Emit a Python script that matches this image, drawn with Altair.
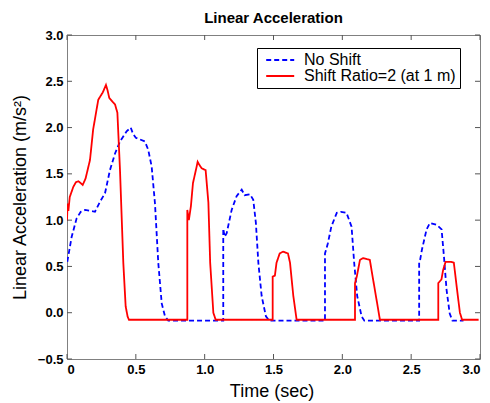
import altair as alt
import pandas as pd

series_names = ["No Shift", "Shift Ratio=2 (at 1 m)"]

blue_t = [0.002, 0.034, 0.070, 0.100, 0.131, 0.170, 0.203, 0.240, 0.276, 0.312,
          0.349, 0.385, 0.433, 0.463, 0.480, 0.500, 0.566, 0.590, 0.615, 0.639,
          0.663, 0.688, 0.712, 0.736, 1.135, 1.135, 1.145, 1.160, 1.196, 1.232,
          1.269, 1.290, 1.329, 1.353, 1.372, 1.390, 1.414, 1.445, 1.470, 1.874,
          1.874, 1.882, 1.895, 1.920, 1.960, 1.990, 2.030, 2.067, 2.086, 2.108,
          2.140, 2.160, 2.558, 2.558, 2.565, 2.578, 2.612, 2.636, 2.685, 2.721,
          2.738, 2.757, 2.780, 2.800, 2.880]
blue_v = [0.55, 0.82, 1.02, 1.09, 1.11, 1.10, 1.09, 1.20, 1.29, 1.54,
          1.72, 1.85, 1.96, 2.00, 1.93, 1.89, 1.85, 1.76, 1.58, 1.18,
          0.54, 0.10, -0.04, -0.086, -0.086, 0.91, 0.82, 0.86, 1.11, 1.26,
          1.33, 1.27, 1.28, 1.22, 0.97, 0.54, 0.18, -0.04, -0.086, -0.086,
          0.64, 0.68, 0.75, 0.93, 1.08, 1.09, 1.08, 0.93, 0.54, 0.18,
          -0.04, -0.086, -0.086, 0.54, 0.57, 0.68, 0.90, 0.97, 0.95, 0.90,
          0.61, 0.25, -0.01, -0.086, -0.086]

red_t = [0.000, 0.004, 0.010, 0.020, 0.046, 0.065, 0.082, 0.100, 0.114, 0.135,
         0.167, 0.190, 0.227, 0.260, 0.283, 0.295, 0.307, 0.330, 0.349, 0.366,
         0.385, 0.409, 0.426, 0.440, 0.450, 0.874, 0.874, 0.885, 0.900, 0.915,
         0.942, 0.949, 0.960, 0.978, 1.007, 1.027, 1.040, 1.063, 1.080, 1.494,
         1.494, 1.510, 1.522, 1.545, 1.570, 1.605, 1.620, 1.644, 1.668, 2.092,
         2.092, 2.105, 2.128, 2.150, 2.200, 2.212, 2.244, 2.273, 2.697, 2.697,
         2.720, 2.732, 2.750, 2.790, 2.810, 2.830, 2.854, 2.870, 2.990]
red_v = [0.99, 1.18, 1.10, 1.25, 1.36, 1.41, 1.42, 1.40, 1.38, 1.45,
         1.65, 1.98, 2.30, 2.38, 2.46, 2.40, 2.32, 2.28, 2.25, 2.16,
         1.54, 0.54, 0.07, -0.04, -0.076, -0.076, 1.11, 1.00, 1.15, 1.40,
         1.58, 1.63, 1.60, 1.56, 1.54, 1.19, 0.54, 0.00, -0.076, -0.076,
         0.39, 0.40, 0.54, 0.64, 0.66, 0.64, 0.54, 0.18, -0.076, -0.076,
         0.32, 0.39, 0.57, 0.59, 0.57, 0.46, 0.18, -0.076, -0.076, 0.32,
         0.36, 0.46, 0.55, 0.55, 0.54, 0.29, 0.00, -0.076, -0.076]

x_ticks = [0, 0.5, 1.0, 1.5, 2.0, 2.5, 3.0]
y_ticks = [-0.5, 0.0, 0.5, 1.0, 1.5, 2.0, 2.5, 3.0]

rows = []
for i, (t, v) in enumerate(zip(blue_t, blue_v)):
    rows.append({"t": t, "v": v, "series": series_names[0], "i": i})
for i, (t, v) in enumerate(zip(red_t, red_v)):
    rows.append({"t": t, "v": v, "series": series_names[1], "i": i})
df = pd.DataFrame(rows)

W, H = 413, 324
FONT = "Liberation Sans"
TICK = 5
TICK_COLOR = "#555555"

x_scale = alt.Scale(domain=[0, 3], nice=False, zero=False)
y_scale = alt.Scale(domain=[-0.5, 3], nice=False, zero=False)

x_axis = alt.Axis(
    values=x_ticks, title="Time (sec)",
    labelExpr="datum.value == 0 ? '0' : format(datum.value, '.1f')",
    titleX=204.5, titleY=37, titleAlign="center", titleBaseline="alphabetic")
y_axis = alt.Axis(
    values=y_ticks, format=".1f", title="Linear Acceleration (m/s²)",
    titleAngle=270, titleX=-42, titleY=162, titleAlign="center",
    titleBaseline="alphabetic")

legend = alt.Legend(
    title=None, orient="none", legendX=190, legendY=13,
    strokeColor="black", fillColor="white", padding=4,
    symbolType="M-0.4,0H3.6", symbolSize=196, symbolStrokeWidth=1.8,
    labelFont=FONT, labelFontSize=16, labelColor="black", labelOffset=27,
    labelLimit=400, rowPadding=0,
)

lines = alt.Chart(df).mark_line(strokeWidth=1.8, clip=True).encode(
    x=alt.X("t:Q", scale=x_scale, axis=x_axis),
    y=alt.Y("v:Q", scale=y_scale, axis=y_axis),
    color=alt.Color("series:N", scale=alt.Scale(domain=series_names, range=["#0000ff", "#ff0000"]), legend=legend),
    strokeDash=alt.StrokeDash("series:N", scale=alt.Scale(domain=series_names, range=[[5, 3], [1, 0]]), legend=legend),
    order="i:Q",
)

xt = pd.DataFrame({"t": x_ticks})
yt = pd.DataFrame({"v": y_ticks})

bottom_ticks = alt.Chart(xt).mark_rule(color=TICK_COLOR).encode(
    x=alt.X("t:Q", scale=x_scale, axis=x_axis), y=alt.value(H), y2=alt.value(H - TICK))
top_ticks = alt.Chart(xt).mark_rule(color=TICK_COLOR).encode(
    x=alt.X("t:Q", scale=x_scale, axis=x_axis), y=alt.value(0), y2=alt.value(TICK))
left_ticks = alt.Chart(yt).mark_rule(color=TICK_COLOR).encode(
    y=alt.Y("v:Q", scale=y_scale, axis=y_axis), x=alt.value(0), x2=alt.value(TICK))
right_ticks = alt.Chart(yt).mark_rule(color=TICK_COLOR).encode(
    y=alt.Y("v:Q", scale=y_scale, axis=y_axis), x=alt.value(W), x2=alt.value(W - TICK))

chart = alt.layer(lines, bottom_ticks, top_ticks, left_ticks, right_ticks).properties(
    width=W, height=H,
    title=alt.TitleParams("Linear Acceleration", font=FONT, fontSize=15, fontWeight="bold",
                          color="black", baseline="alphabetic", offset=12, anchor="middle",
                          frame="group", dy=21),
    autosize=alt.AutoSizeParams(type="none"),
    padding={"left": 67, "top": 35, "right": 10, "bottom": 44},
    background="white",
).configure_view(
    stroke="#808080", strokeWidth=1
).configure_axis(
    domain=False, ticks=False, grid=False,
    labelFont=FONT, labelFontSize=13, labelFontWeight="bold", labelColor="black",
    labelPadding=4,
    titleFont=FONT, titleFontSize=18, titleFontWeight="normal", titleColor="black",
)

chart.save("out.html", embed_options={"renderer": "svg", "actions": False})
